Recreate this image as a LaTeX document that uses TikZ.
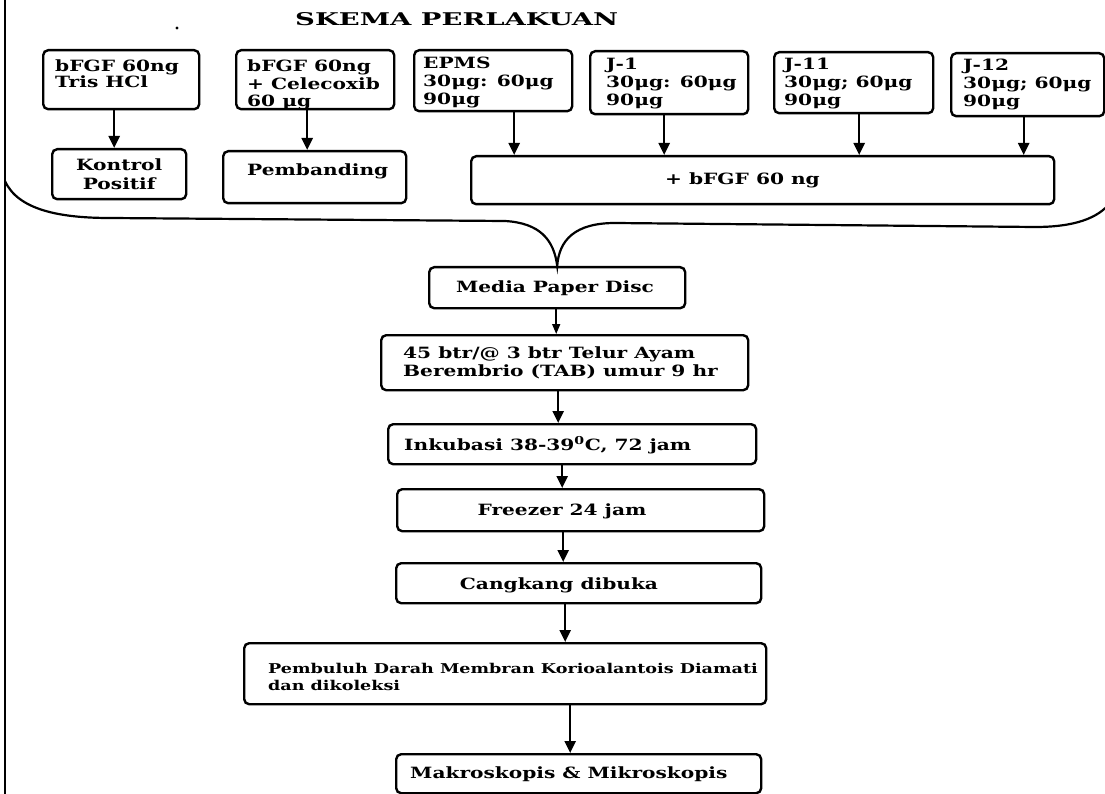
\documentclass[tikz,border=0pt]{standalone}
\usepackage{graphicx}
\usepackage{fontspec}
\setmainfont{DejaVu Serif}[FakeStretch=1.3]
\usetikzlibrary{arrows.meta}
\newcommand\fs{\fontsize{15.5}{18}\selectfont\bfseries}
\begin{document}
\begin{tikzpicture}[x=1pt,y=-1pt,
  box/.style={draw, line width=2.4pt, rounded corners=5pt, inner sep=0pt, anchor=north west},
  txt/.style={anchor=base west, inner sep=0pt, align=left, font=\fs},
  ctxt/.style={inner sep=0pt, align=center, font=\fs},
  arr/.style={line width=2.3pt, -{Triangle[length=12pt,width=11pt]}},
  curve/.style={line width=2.2pt},
]
\useasboundingbox (0,0) rectangle (1105,794);
% frame line and speck
\draw[line width=2.6pt] (5,-2) -- (5,796);
\fill (177,28) circle (1.6pt);
% title
\node[anchor=base west, inner sep=0pt] (title) at (295,26) {\resizebox{323pt}{13pt}{\bfseries SKEMA PERLAKUAN}};
% top row boxes
\node[box, minimum width=156pt, minimum height=59pt] (b1) at (42,49) {};
\node[box, minimum width=158pt, minimum height=59pt] (b2) at (235,49) {};
\node[box, minimum width=158pt, minimum height=61pt] (b3) at (413,49) {};
\node[box, minimum width=158pt, minimum height=63pt] (b4) at (589,50) {};
\node[box, minimum width=159pt, minimum height=61pt] (b5) at (773,51) {};
\node[box, minimum width=153pt, minimum height=63pt] (b6) at (950,52) {};
\node[txt, font=\fontsize{15.5}{16}\selectfont\bfseries] (b1t) at (55,88) {bFGF 60ng\\Tris HCl};
\node[txt, font=\fontsize{15.5}{17.5}\selectfont\bfseries] (b2t) at (247,107) {bFGF 60ng\\+ Celecoxib\\60 μg};
\node[txt] (b3t) at (423,105) {EPMS\\30μg: 60μg\\90μg};
\node[txt] (b4t) at (606,106) {J-1\\30μg: 60μg\\90μg};
\node[txt] (b5t) at (784,106) {J-11\\30μg; 60μg\\90μg};
\node[txt] (b6t) at (963,107) {J-12\\30μg; 60μg\\90μg};
% second row
\node[box, minimum width=134pt, minimum height=50pt] (k1) at (51,148) {};
\node[ctxt, font=\fontsize{15.5}{19}\selectfont\bfseries] (k1t) at (k1.center) {Kontrol\\Positif};
\node[box, minimum width=183pt, minimum height=52pt] (pb) at (222,150) {};
\node[txt] (pbt) at (247,176) {Pembanding};
\node[box, minimum width=583pt, minimum height=48pt] (big) at (470,155) {};
\node[txt] (bigt) at (665,185) {+ bFGF 60 ng};
% flow boxes
\node[box, minimum width=256pt, minimum height=41pt] (md) at (428,266) {};
\node[anchor=base, inner sep=0pt, font=\fontsize{15.5}{16}\selectfont\bfseries] (mdt) at (555,292) {Media Paper Disc};
\node[box, minimum width=367pt, minimum height=55pt] (tb) at (380,334) {};
\node[txt] (tbt) at (403,376) {45 btr/@ 3 btr Telur Ayam\\Berembrio (TAB) umur 9 hr};
\node[box, minimum width=368pt, minimum height=40pt] (ik) at (387,423) {};
\node[txt] (ikt) at (404,450) {Inkubasi 38-39\textsuperscript{0}C, 72 jam};
\node[box, minimum width=367pt, minimum height=42pt] (fz) at (396,488) {};
\node[anchor=base, inner sep=0pt, font=\fs] (fzt) at (562,515) {Freezer 24 jam};
\node[box, minimum width=365pt, minimum height=40pt] (ck) at (395,562) {};
\node[anchor=base, inner sep=0pt, font=\fs] (ckt) at (559,589) {Cangkang dibuka};
\node[box, minimum width=522pt, minimum height=61pt] (pd) at (243,642) {};
\node[txt, font=\fontsize{13.5}{17}\selectfont\bfseries] (pdt) at (268,690) {Pembuluh Darah Membran Korioalantois Diamati\\dan dikoleksi};
\node[box, minimum width=365pt, minimum height=39pt] (mk) at (395,753) {};
\node[txt] (mkt) at (410,778) {Makroskopis \& Mikroskopis};
% brace
\draw[curve] (5,181) .. controls (18,210) and (60,218) .. (110,218) -- (505,221)
  .. controls (540,223) and (554,240) .. (md.north)
  .. controls (559,240) and (575,223) .. (615,223) -- (1035,227)
  .. controls (1075,227) and (1098,218) .. (1110,203);
% arrows
\coordinate (a1) at ([xshift=-7pt]b1.south);
\coordinate (a2) at ([xshift=-8pt]b2.south);
\coordinate (a3) at ([xshift=21pt]b3.south);
\coordinate (a4) at ([xshift=-5pt]b4.south);
\coordinate (a5) at ([xshift=5.5pt]b5.south);
\coordinate (a6) at ([xshift=-4pt]b6.south);
\draw[arr] (a1) -- (a1 |- k1.north);
\draw[arr] (a2) -- (a2 |- pb.north);
\draw[arr] (a3) -- (a3 |- big.north);
\draw[arr] (a4) -- (a4 |- big.north);
\draw[arr] (a5) -- (a5 |- big.north);
\draw[arr] (a6) -- (a6 |- big.north);
\coordinate (c1) at ([xshift=-1pt]md.south);
\coordinate (c2) at ([xshift=-6.5pt]tb.south);
\coordinate (c3) at ([xshift=-10pt]ik.south);
\coordinate (c4) at ([xshift=-17.5pt]fz.south);
\coordinate (c5) at ([xshift=-13.5pt]ck.south);
\coordinate (c6) at ([xshift=65pt]pd.south);
\draw[arr, line width=1.6pt, -{Triangle[length=10pt,width=8pt]}] (c1) -- (c1 |- tb.north);
\draw[arr] (c2) -- (c2 |- ik.north);
\draw[arr] (c3) -- (c3 |- fz.north);
\draw[arr] (c4) -- (c4 |- ck.north);
\draw[arr] (c5) -- (c5 |- pd.north);
\draw[arr] (c6) -- (c6 |- mk.north);
\end{tikzpicture}
\end{document}
